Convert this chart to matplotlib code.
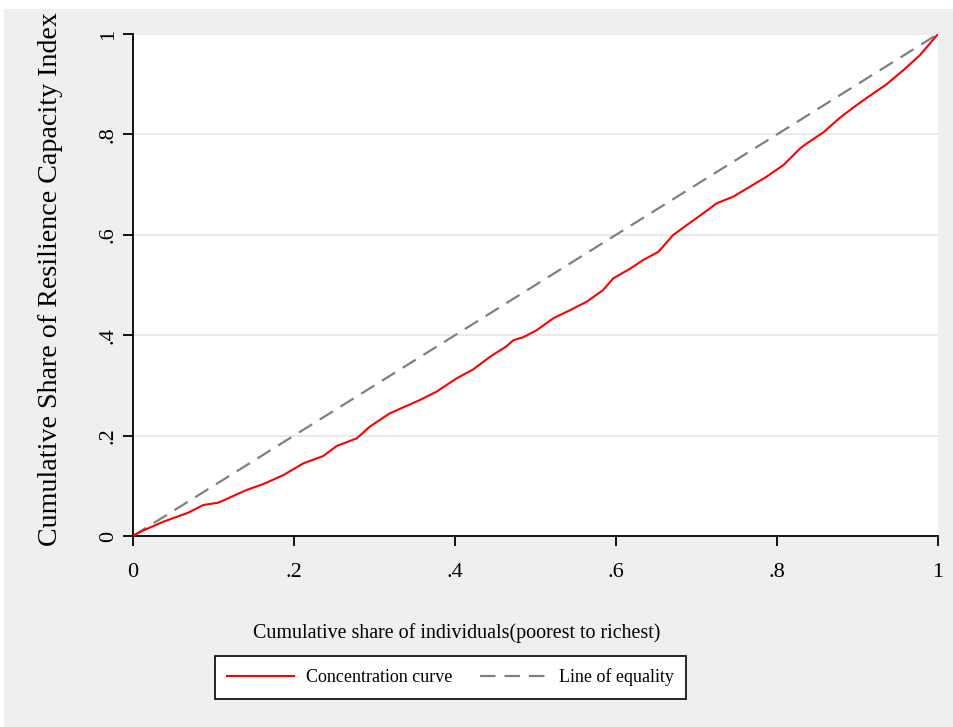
import matplotlib
matplotlib.use("Agg")
import matplotlib.pyplot as plt
from matplotlib.patches import Rectangle

# Data
share_individuals = [0, 0.0087, 0.0377, 0.0687, 0.0874, 0.106, 0.141, 0.162, 0.187, 0.2116,
                     0.2364, 0.253, 0.278, 0.294, 0.319, 0.3565, 0.377, 0.402, 0.4227, 0.4435,
                     0.464, 0.4724, 0.4849, 0.5015, 0.522, 0.543, 0.5636, 0.584, 0.5966, 0.617,
                     0.634, 0.6526, 0.671, 0.688, 0.7085, 0.725, 0.7457, 0.7665, 0.787, 0.808,
                     0.8286, 0.837, 0.8575, 0.878, 0.899, 0.9197, 0.936, 0.957, 0.9776, 1.0]
concentration = [0, 0.008, 0.0285, 0.0465, 0.0618, 0.0664, 0.0916, 0.1036, 0.1215, 0.1448,
                 0.1594, 0.1793, 0.1946, 0.2177, 0.2444, 0.271, 0.2875, 0.314, 0.332, 0.357,
                 0.378, 0.390, 0.396, 0.410, 0.4336, 0.450, 0.4667, 0.490, 0.5133, 0.532,
                 0.550, 0.566, 0.5996, 0.6195, 0.643, 0.6627, 0.676, 0.696, 0.7157, 0.739,
                 0.772, 0.782, 0.804, 0.833, 0.8586, 0.8818, 0.8998, 0.928, 0.958, 1.0]
equality_x = [0, 1]
equality_y = [0, 1]
tick_values = [0, 0.2, 0.4, 0.6, 0.8, 1.0]
tick_labels = ["0", ".2", ".4", ".6", ".8", "1"]

plt.rcParams['font.family'] = ['Liberation Serif', 'DejaVu Serif']

W, H = 954, 727
fig = plt.figure(figsize=(W / 100, H / 100), dpi=100, facecolor='white')
fig.patches.append(Rectangle((4 / W, 0), 1 - 4 / W, 1 - 9 / H, transform=fig.transFigure,
                             facecolor='#EFEFEF', edgecolor='none', zorder=-10))

ax = fig.add_axes([133 / W, (H - 536) / H, 805 / W, 502 / H])
ax.set_zorder(1)
ax.set_facecolor('white')

ax.plot(share_individuals, concentration, color='#FF0000', lw=1.5, label='Concentration curve',
        zorder=3)
ax.plot(equality_x, equality_y, color='#808080', lw=1.6, dashes=(7, 4), label='Line of equality',
        zorder=2)

ax.set_xlim(0, 1)
ax.set_ylim(0, 1)
ax.set_xticks(tick_values)
ax.set_xticklabels(tick_labels)
ax.set_yticks(tick_values)
ax.set_yticklabels(tick_labels, rotation=90, va='center')
ax.tick_params(axis='both', direction='out', length=7.2, width=1.3, labelsize=16, colors='black')
ax.tick_params(axis='x', pad=12)
ax.tick_params(axis='y', pad=3.6)

for y in tick_values[1:]:
    ax.axhline(y, color='#E6E6E6', lw=1.2, zorder=1)

ax.spines['top'].set_visible(False)
ax.spines['right'].set_visible(False)
ax.spines['left'].set_linewidth(1.3)
ax.spines['bottom'].set_linewidth(1.3)

fig.text(457 / W, 1 - 633 / H, 'Cumulative share of individuals(poorest to richest)',
         ha='center', va='center', fontsize=14.4)
fig.text(51 / W, 1 - 279 / H, 'Cumulative Share of Resilience Capacity Index',
         ha='center', va='center', rotation=90, fontsize=20.2)

leg = fig.legend(loc='center', bbox_to_anchor=(450.5 / W, 1 - 677.5 / H), ncol=2,
                 fontsize=13, frameon=True, fancybox=False, framealpha=1, handlelength=3.7,
                 columnspacing=1.55, handletextpad=0.65, borderpad=0.7, borderaxespad=0)
leg.get_frame().set_edgecolor('black')
leg.get_frame().set_linewidth(1.2)
leg.get_frame().set_facecolor('white')

fig.savefig('out.png', dpi=100, facecolor=fig.get_facecolor())
